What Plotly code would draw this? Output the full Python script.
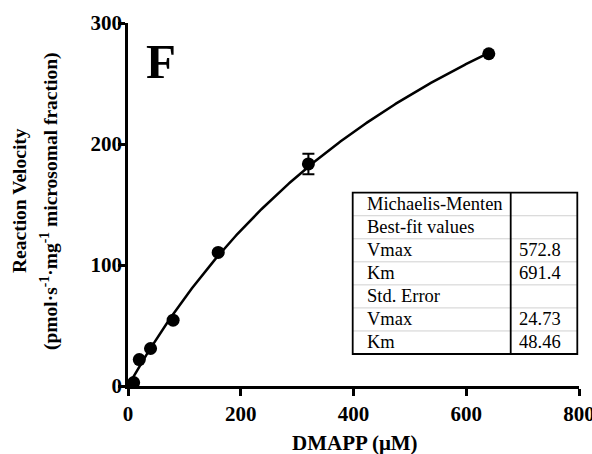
import plotly.graph_objects as go
import numpy as np

# Data
dmapp = [10, 20, 40, 80, 160, 320, 640]
velocity = [2.8, 21.8, 31.0, 54.4, 110.4, 183.5, 274.6]
velocity_err = [0, 0, 0, 0, 0, 8.5, 0]
vmax = 572.8
km = 691.4
x_ticks = [0, 200, 400, 600, 800]
y_ticks = [0, 100, 200, 300]
table_labels = ["Michaelis-Menten", "Best-fit values", "Vmax", "Km", "Std. Error", "Vmax", "Km"]
table_values = ["", "", "572.8", "691.4", "", "24.73", "48.46"]

FONT = "Liberation Serif"

W, H = 592, 454
ML, MR, MT, MB = 128, 13, 23, 68
PW, PH = W - ML - MR, H - MT - MB

def px(x):
    return (x - ML) / PW

def py(y):
    return (H - MB - y) / PH

fig = go.Figure()

xfit = np.linspace(0, max(dmapp), 300)
yfit = vmax * xfit / (km + xfit)
fig.add_trace(go.Scatter(x=xfit, y=yfit, mode="lines",
                         line=dict(color="black", width=2.5),
                         hoverinfo="skip", showlegend=False, cliponaxis=False))

fig.add_trace(go.Scatter(x=dmapp, y=velocity, mode="markers",
                         marker=dict(color="black", size=13),
                         error_y=dict(type="data", array=velocity_err, visible=True,
                                      color="black", thickness=2, width=6),
                         showlegend=False, cliponaxis=False))

fig.update_xaxes(range=[0, 800], tickvals=x_ticks, ticks="outside", ticklen=7, tickwidth=2.5,
                 tickcolor="black", showline=True, linecolor="black", linewidth=2.5,
                 showgrid=False, zeroline=False, ticklabeloverflow="allow", automargin=False,
                 tickfont=dict(family=FONT, size=21, color="black", weight="bold"))
fig.update_yaxes(range=[0, 300], tickvals=y_ticks, ticks="outside", ticklen=7, tickwidth=2.5,
                 tickcolor="black", showline=True, linecolor="black", linewidth=2.5,
                 showgrid=False, zeroline=False, ticklabelstandoff=-8, automargin=False,
                 tickfont=dict(family=FONT, size=21, color="black", weight="bold"))

annotations = []
# x title
annotations.append(dict(text="DMAPP (\u03bcM)", x=px(355), y=py(443), xref="paper", yref="paper",
                        showarrow=False, xanchor="center", yanchor="middle",
                        font=dict(family=FONT, size=21, color="black", weight="bold")))
# y title lines
annotations.append(dict(text="Reaction Velocity", x=px(20), y=py(201), xref="paper", yref="paper",
                        showarrow=False, textangle=-90, xanchor="center", yanchor="middle",
                        font=dict(family=FONT, size=19.5, color="black", weight="bold")))
annotations.append(dict(text="(pmol\u00b7s<sup>-1</sup>\u00b7mg<sup>-1</sup> microsomal fraction)",
                        x=px(50), y=py(201), xref="paper", yref="paper",
                        showarrow=False, textangle=-90, xanchor="center", yanchor="middle",
                        font=dict(family=FONT, size=19.5, color="black", weight="bold")))
# panel letter
annotations.append(dict(text="F", x=px(161), y=py(62), xref="paper", yref="paper",
                        showarrow=False, xanchor="center", yanchor="middle",
                        font=dict(family=FONT, size=49, color="black", weight="bold")))

# table
tl, tr, tt, tb, tdiv = 352.7, 577.3, 192.7, 354.0, 510.7
nr = len(table_labels)
rh = (tb - tt) / nr
shapes = []
for i in range(1, nr):
    yy = tt + i * rh
    shapes.append(dict(type="line", xref="paper", yref="paper", x0=px(tl), x1=px(tr),
                       y0=py(yy), y1=py(yy), line=dict(color="#d0d0d0", width=1)))
shapes.append(dict(type="rect", xref="paper", yref="paper", x0=px(tl), x1=px(tr),
                   y0=py(tb), y1=py(tt), line=dict(color="black", width=1.8)))
shapes.append(dict(type="line", xref="paper", yref="paper", x0=px(tdiv), x1=px(tdiv),
                   y0=py(tb), y1=py(tt), line=dict(color="black", width=1.8)))

for i, (lab, val) in enumerate(zip(table_labels, table_values)):
    yc = tt + (i + 0.5) * rh
    annotations.append(dict(text=lab, x=px(365), y=py(yc), xref="paper", yref="paper",
                            showarrow=False, xanchor="left", yanchor="middle",
                            font=dict(family=FONT, size=18.5, color="black")))
    if val:
        annotations.append(dict(text=val, x=px(563), y=py(yc), xref="paper", yref="paper",
                                showarrow=False, xanchor="right", yanchor="middle",
                                font=dict(family=FONT, size=18.5, color="black")))

fig.update_layout(width=W, height=H, margin=dict(l=ML, r=MR, t=MT, b=MB),
                  paper_bgcolor="white", plot_bgcolor="white",
                  annotations=annotations, shapes=shapes, showlegend=False)

fig.write_html("out.html")
